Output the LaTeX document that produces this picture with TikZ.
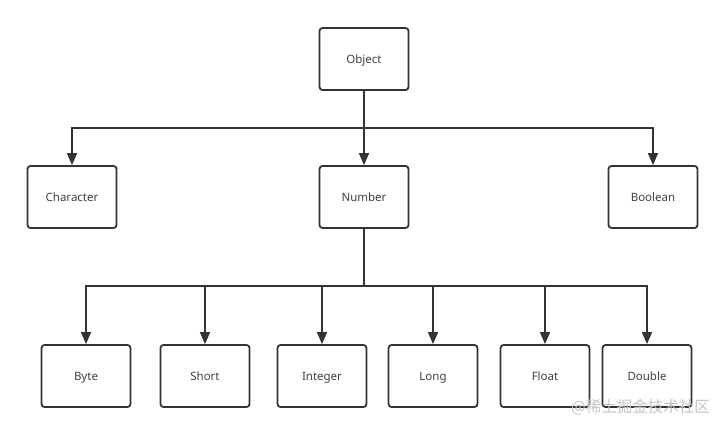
\documentclass[tikz,border=0pt]{standalone}
\usepackage{fontspec}
\setmainfont{Noto Sans}
\newfontfamily\cjk{Noto Sans CJK SC}
\usetikzlibrary{arrows.meta}
\definecolor{linec}{HTML}{333333}
\definecolor{textc}{HTML}{404040}
\definecolor{wmark}{HTML}{C4C4C4}
\begin{document}
\begin{tikzpicture}[x=1pt,y=-1pt,
  box/.style={draw=linec, line width=1.8pt, rounded corners=3pt, fill=white,
    minimum width=89pt, minimum height=62pt, inner sep=0pt,
    text height=9.5pt, text depth=0.5pt,
    font=\fontsize{11.5}{13}\selectfont, text=textc},
  conn/.style={draw=linec, line width=1.6pt},
  arr/.style={conn, -{Triangle[length=12pt,width=10pt]}}]
\useasboundingbox (0,0) rectangle (726,428);
\node[box] (object) at (364,59) {Object};
\node[box] (character) at (72,197) {Character};
\node[box] (number) at (364,197) {Number};
\node[box] (boolean) at (653,197) {Boolean};
\node[box] (byte) at (86,376) {Byte};
\node[box] (short) at (205,376) {Short};
\node[box] (integer) at (322,376) {Integer};
\node[box] (long) at (433,376) {Long};
\node[box] (float) at (545,376) {Float};
\node[box] (double) at (647,376) {Double};
\coordinate (j1) at (364,128);
\coordinate (j2) at (364,286);
\draw[conn] (object.south) -- (j1);
\draw[arr] (j1) -| (character.north);
\draw[arr] (j1) -- (number.north);
\draw[arr] (j1) -| (boolean.north);
\draw[conn] (number.south) -- (j2);
\foreach \n in {byte,short,integer,long,float,double}
  \draw[arr] (j2) -| (\n.north);
\node[anchor=west, inner sep=0pt, text=wmark, font=\cjk\fontsize{15.5}{17}\selectfont] (wm) at (571,407) {@稀土掘金技术社区};
\end{tikzpicture}
\end{document}
